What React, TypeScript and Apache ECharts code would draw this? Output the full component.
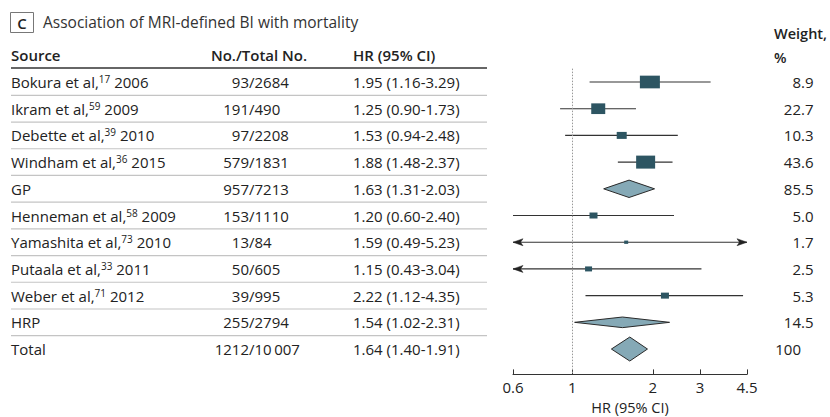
import React, { useEffect, useRef } from 'react';
import * as echarts from 'echarts';

// ---- data ----
const sources = ['Bokura et al,', 'Ikram et al,', 'Debette et al,', 'Windham et al,', 'GP', 'Henneman et al,', 'Yamashita et al,', 'Putaala et al,', 'Weber et al,', 'HRP', 'Total'];
const refs = ['17', '59', '39', '36', '', '58', '73', '33', '71', '', ''];
const years = ['2006', '2009', '2010', '2015', '', '2009', '2010', '2011', '2012', '', ''];
const events = [93, 191, 97, 579, 957, 153, 13, 50, 39, 255, 1212];
const totals = [2684, 490, 2208, 1831, 7213, 1110, 84, 605, 995, 2794, 10007];
const hr = [1.95, 1.25, 1.53, 1.88, 1.63, 1.2, 1.59, 1.15, 2.22, 1.54, 1.64];
const lo = [1.16, 0.9, 0.94, 1.48, 1.31, 0.6, 0.49, 0.43, 1.12, 1.02, 1.4];
const hi = [3.29, 1.73, 2.48, 2.37, 2.03, 2.4, 5.23, 3.04, 4.35, 2.31, 1.91];
const weights = [8.9, 22.7, 10.3, 43.6, 85.5, 5.0, 1.7, 2.5, 5.3, 14.5, 100];
const rowKind = ['study', 'study', 'study', 'study', 'pooled', 'study', 'study', 'study', 'study', 'pooled', 'pooled'];
const xTicks = [0.6, 1, 2, 3, 4.5];
const xRange = [0.6, 4.5];

// ---- styles (marker sizes as drawn) ----
const BOX_W = [20, 14, 10, 19, 0, 8, 4, 7, 8, 0, 0];
const BOX_H = [12.7, 10.7, 7, 13, 0, 6, 3.3, 5, 6, 0, 0];
const DIAMOND_HALF = [0, 0, 0, 0, 8.7, 0, 0, 0, 0, 5.3, 12];

const FAM = '"Open Sans", "Liberation Sans", sans-serif';
const TXT = '#222';
const f = (size: number, bold = false) => `${bold ? '600 ' : ''}${size}px ${FAM}`;

const X_MIN = Math.log(xRange[0]);
const X_MAX = Math.log(xRange[1]);

function fmtTotal(n: number) {
  const s = String(n);
  return n >= 10000 ? s.slice(0, -3) + '\u2009' + s.slice(-3) : s;
}
function fmtWeight(w: number) {
  return Number.isInteger(w) && w >= 100 ? String(w) : w.toFixed(1);
}

export default function App() {
  const ref = useRef<HTMLDivElement>(null);
  useEffect(() => {
    if (!ref.current) return;
    const chart = echarts.init(ref.current, undefined, { renderer: 'svg' });

    const renderItem = (params: any, api: any) => {
      const i = params.dataIndex;
      const yc = api.coord([0, i])[1];
      const ySep = api.coord([0, i + 0.5])[1];
      const children: any[] = [];

      // table texts
      const src = refs[i]
        ? `{n|${sources[i]}}{s|${refs[i]}}{n| ${years[i]}}`
        : `{n|${sources[i]}}`;
      children.push({
        type: 'text', x: 11, y: yc, silent: true,
        style: {
          text: src, align: 'left', verticalAlign: 'middle',
          rich: {
            n: { font: f(15), fill: TXT, lineHeight: 16 },
            s: { font: f(10), fill: TXT, verticalAlign: 'top' },
          },
        },
      });
      children.push({ type: 'text', x: 249, y: yc, silent: true, style: { text: String(events[i]), font: f(15), fill: TXT, align: 'right', verticalAlign: 'middle' } });
      children.push({ type: 'text', x: 249, y: yc, silent: true, style: { text: '/' + fmtTotal(totals[i]), font: f(15), fill: TXT, align: 'left', verticalAlign: 'middle' } });
      children.push({ type: 'text', x: 353, y: yc, silent: true, style: { text: `${hr[i].toFixed(2)} (${lo[i].toFixed(2)}-${hi[i].toFixed(2)})`, font: f(15), fill: TXT, align: 'left', verticalAlign: 'middle' } });
      const ws = fmtWeight(weights[i]);
      const dot = ws.indexOf('.');
      const wInt = dot >= 0 ? ws.slice(0, dot) : ws;
      const wFrac = dot >= 0 ? ws.slice(dot) : '';
      children.push({ type: 'text', x: 801, y: yc, silent: true, style: { text: wInt, font: f(15), fill: TXT, align: 'right', verticalAlign: 'middle' } });
      if (wFrac) children.push({ type: 'text', x: 801, y: yc, silent: true, style: { text: wFrac, font: f(15), fill: TXT, align: 'left', verticalAlign: 'middle' } });

      if (i < sources.length - 1) {
        children.push({ type: 'line', silent: true, shape: { x1: 11, y1: ySep, x2: 487, y2: ySep }, style: { stroke: '#c4c4c4', lineWidth: 1.2 } });
      }

      // forest marks
      const lLog = Math.log(lo[i]);
      const hLog = Math.log(hi[i]);
      const pL = api.coord([Math.max(lLog, X_MIN), i])[0];
      const pH = api.coord([Math.min(hLog, X_MAX), i])[0];
      const pM = api.coord([Math.log(hr[i]), i])[0];

      if (rowKind[i] === 'study') {
        children.push({ type: 'line', silent: true, shape: { x1: pL, y1: yc, x2: pH, y2: yc }, style: { stroke: '#333', lineWidth: 1.1 } });
        const arrow = (tipX: number, dir: number) => ({
          type: 'polygon', silent: true,
          shape: { points: [[tipX, yc], [tipX + dir * 10, yc - 3.5], [tipX + dir * 7.5, yc], [tipX + dir * 10, yc + 3.5]] },
          style: { fill: '#222', stroke: '#222', lineWidth: 0.5 },
        });
        if (lLog < X_MIN - 1e-9) children.push(arrow(pL, 1));
        if (hLog > X_MAX + 1e-9) children.push(arrow(pH, -1));
        children.push({
          type: 'rect', silent: true,
          shape: { x: pM - BOX_W[i] / 2, y: yc - BOX_H[i] / 2, width: BOX_W[i], height: BOX_H[i] },
          style: { fill: '#2d5562' },
        });
      } else {
        const h = DIAMOND_HALF[i];
        children.push({
          type: 'polygon', silent: true,
          shape: { points: [[pL, yc], [pM, yc - h], [pH, yc], [pM, yc + h]] },
          style: { fill: '#85a9b6', stroke: '#2a2a2a', lineWidth: 1 },
        });
      }
      return { type: 'group', children };
    };

    const option: any = {
      animation: false,
      grid: { left: 513, width: 234, top: 68.65, height: 305.75, containLabel: false, outerBoundsMode: 'none' },
      xAxis: {
        type: 'value', min: X_MIN, max: X_MAX,
        axisLine: { show: true, onZero: false, lineStyle: { color: '#333', width: 1 } },
        axisTick: { show: true, inside: true, length: 5, customValues: xTicks.map(v => Math.log(v)), lineStyle: { color: '#333' } },
        axisLabel: {
          customValues: xTicks.map(v => Math.log(v)), margin: 5, fontSize: 15, fontFamily: FAM, color: TXT,
          formatter: (v: number) => String(parseFloat(Math.exp(v).toFixed(1))),
        },
        splitLine: { show: false },
        name: 'HR (95% CI)', nameLocation: 'middle', nameGap: 24,
        nameTextStyle: { fontSize: 14.5, fontFamily: FAM, color: TXT, lineHeight: 16 },
      },
      yAxis: { type: 'value', inverse: true, min: -0.5, max: 10.95, show: false },
      graphic: [
        { type: 'rect', shape: { x: 10.5, y: 12.5, width: 23, height: 20 }, style: { fill: 'none', stroke: '#777', lineWidth: 1 } },
        { type: 'text', x: 22, y: 23, style: { text: 'C', font: f(15, true), fill: TXT, align: 'center', verticalAlign: 'middle' } },
        { type: 'text', x: 43, y: 22, style: { text: 'Association of MRI-defined BI with mortality', font: f(15.5), fill: '#333', align: 'left', verticalAlign: 'middle' } },
        { type: 'text', x: 11, y: 55, style: { text: 'Source', font: f(15, true), fill: TXT, align: 'left', verticalAlign: 'middle' } },
        { type: 'text', x: 259, y: 55, style: { text: 'No./Total No.', font: f(15, true), fill: TXT, align: 'center', verticalAlign: 'middle' } },
        { type: 'text', x: 353, y: 55, style: { text: 'HR (95% CI)', font: f(15, true), fill: TXT, align: 'left', verticalAlign: 'middle' } },
        { type: 'text', x: 774, y: 33, style: { text: 'Weight,', font: f(14.5, true), fill: TXT, align: 'left', verticalAlign: 'middle' } },
        { type: 'text', x: 774, y: 57, style: { text: '%', font: f(14.5, true), fill: TXT, align: 'left', verticalAlign: 'middle' } },
        { type: 'line', shape: { x1: 11, y1: 68, x2: 487, y2: 68 }, style: { stroke: '#333', lineWidth: 1.5 } },
      ],
      series: [
        {
          type: 'custom',
          renderItem,
          clip: false,
          data: hr.map((v, i) => [Math.log(v), i]),
          markLine: {
            silent: true, symbol: 'none', label: { show: false },
            lineStyle: { color: '#999', type: [1.5, 1.5], width: 1 },
            data: [{ xAxis: 0 }],
          },
        },
      ],
    };
    chart.setOption(option);
    return () => chart.dispose();
  }, []);
  return <div ref={ref} style={{ position: 'absolute', left: 0, top: 0, width: 830, height: 417 }} />;
}
